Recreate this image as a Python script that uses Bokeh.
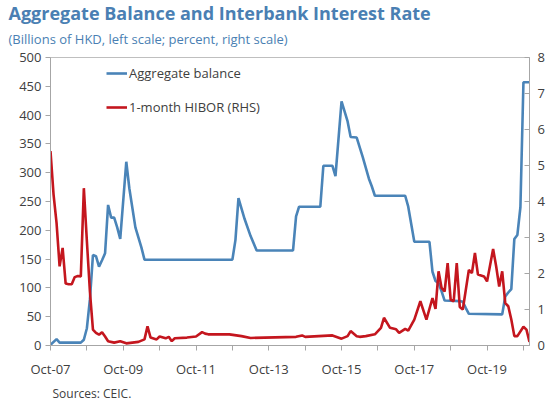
from bokeh.plotting import figure
from bokeh.models import (Range1d, LinearAxis, FixedTicker, Legend, LegendItem,
                          Title, ColumnDataSource)
from bokeh.embed import file_html
from bokeh.resources import INLINE

# ---- data ----
balance_dates = ["2007-10", "2007-12", "2008-01", "2008-08", "2008-09", "2008-10", "2008-11",
                 "2008-12", "2009-01", "2009-02", "2009-03", "2009-04", "2009-05", "2009-06",
                 "2009-07", "2009-08", "2009-09", "2009-11", "2009-12", "2010-02", "2010-04",
                 "2010-05",
                 "2012-10", "2012-11", "2012-12", "2013-02", "2013-04", "2013-06", "2014-06",
                 "2014-07", "2014-08", "2015-03", "2015-04", "2015-07", "2015-08", "2015-10",
                 "2015-12", "2016-01", "2016-03", "2016-05", "2016-07", "2016-08", "2016-09",
                 "2017-07", "2017-08", "2017-10", "2018-03", "2018-04", "2018-05", "2018-06",
                 "2018-07", "2018-08", "2019-01", "2019-02", "2019-03", "2019-04", "2020-03",
                 "2020-04", "2020-05", "2020-06", "2020-07", "2020-08", "2020-09", "2020-10",
                 "2020-12"]
balance_values = [1, 11, 5, 5, 10, 30, 80,
                  157, 155, 137, 148, 160, 244, 222,
                  222, 205, 185, 319, 273, 205, 170,
                  149,
                  149, 183, 256, 220, 190, 165, 165,
                  224, 241, 241, 312, 312, 294, 424,
                  389, 362, 361, 327, 290, 276, 260,
                  260, 241, 180, 180, 128, 112, 108,
                  94, 78, 77, 76, 65, 55, 54,
                  85, 92, 98, 185, 192, 240, 457,
                  457]

hibor_dates = ["2007-10", "2007-11", "2007-12", "2008-01", "2008-02", "2008-03", "2008-04",
               "2008-05", "2008-06", "2008-07", "2008-08", "2008-09", "2008-10", "2008-11",
               "2008-12", "2009-01", "2009-02", "2009-03", "2009-04", "2009-05", "2009-07",
               "2009-09", "2009-11", "2010-01", "2010-03", "2010-05", "2010-06", "2010-07",
               "2010-09", "2010-10", "2010-12", "2011-01", "2011-02", "2011-03", "2011-07",
               "2011-10", "2011-12", "2012-01", "2012-02", "2012-09", "2013-01", "2013-04",
               "2014-07", "2014-09", "2014-10", "2015-07", "2015-10", "2015-12", "2016-01",
               "2016-03", "2016-04", "2016-06", "2016-09", "2016-11", "2016-12", "2017-02",
               "2017-04", "2017-05", "2017-07", "2017-08", "2017-10", "2017-12", "2018-02",
               "2018-04", "2018-05", "2018-06", "2018-07", "2018-08", "2018-09", "2018-10",
               "2018-11", "2018-12", "2019-01", "2019-02", "2019-04", "2019-05", "2019-06",
               "2019-07", "2019-09", "2019-10", "2019-12", "2020-01", "2020-02", "2020-03",
               "2020-04", "2020-05", "2020-06", "2020-07", "2020-08", "2020-10", "2020-11",
               "2020-12"]
hibor_values = [5.4, 4.2, 3.4, 2.2, 2.71, 1.72, 1.70,
                1.70, 1.90, 1.93, 1.92, 4.37, 2.9, 1.5,
                0.44, 0.35, 0.30, 0.37, 0.25, 0.12, 0.08,
                0.12, 0.06, 0.08, 0.10, 0.17, 0.53, 0.22,
                0.17, 0.25, 0.20, 0.24, 0.12, 0.20, 0.22,
                0.25, 0.37, 0.33, 0.31, 0.31, 0.26, 0.21,
                0.24, 0.28, 0.24, 0.28, 0.19, 0.26, 0.40,
                0.26, 0.24, 0.26, 0.31, 0.49, 0.77, 0.49,
                0.45, 0.35, 0.46, 0.41, 0.72, 1.23, 0.72,
                1.32, 1.02, 2.06, 1.60, 1.50, 2.29, 1.27,
                1.23, 2.29, 1.07, 1.00, 2.10, 2.01, 2.57,
                1.97, 1.92, 1.78, 2.68, 2.20, 1.64, 2.06,
                1.18, 1.09, 0.72, 0.26, 0.26, 0.52, 0.44,
                0.10]

x_tick_dates = ["2007-10", "2009-10", "2011-10", "2013-10", "2015-10", "2017-10", "2019-10"]
x_tick_labels = ["Oct-07", "Oct-09", "Oct-11", "Oct-13", "Oct-15", "Oct-17", "Oct-19"]
x_minor_dates = ["2008-10", "2010-10", "2012-10", "2014-10", "2016-10", "2018-10", "2020-10"]
left_ticks = [0, 50, 100, 150, 200, 250, 300, 350, 400, 450, 500]
right_ticks = [0, 1, 2, 3, 4, 5, 6, 7, 8]

title_text = "Aggregate Balance and Interbank Interest Rate"
subtitle_text = "(Billions of HKD, left scale; percent, right scale)"
source_text = "Sources: CEIC."
series_names = ["Aggregate balance", "1-month HIBOR (RHS)"]


def month_index(s):
    y, m = map(int, s.split("-"))
    return (y - 2007) * 12 + (m - 10)


BLUE = "#4a84b8"
RED = "#c4161e"
TITLE_BLUE = "#4a7fb3"
AXIS_GRAY = "#a6a6a6"
TEXT = "#404040"
FONT = "Open Sans"

bal_src = ColumnDataSource(dict(x=[month_index(d) for d in balance_dates], y=balance_values))
hib_src = ColumnDataSource(dict(x=[month_index(d) for d in hibor_dates], y=hibor_values))

p = figure(width=548, height=403, output_backend="svg", toolbar_location=None,
           x_range=Range1d(0, 158), y_range=Range1d(0, 500),
           min_border_left=50, min_border_right=19, min_border_top=57, min_border_bottom=57)
p.extra_y_ranges = {"rhs": Range1d(0, 8)}

p.xgrid.visible = False
p.ygrid.visible = False
p.outline_line_color = "#bfbfbf"
p.background_fill_color = "white"
p.border_fill_color = "white"

r1 = p.line("x", "y", source=bal_src, line_color=BLUE, line_width=2.6)
r2 = p.line("x", "y", source=hib_src, line_color=RED, line_width=2.6, y_range_name="rhs")

# x axis
xa = p.xaxis[0]
xa.ticker = FixedTicker(ticks=[month_index(d) for d in x_tick_dates],
                        minor_ticks=[month_index(d) for d in x_minor_dates])
xa.major_label_overrides = {month_index(d): lab for d, lab in zip(x_tick_dates, x_tick_labels)}
xa.axis_line_color = AXIS_GRAY
xa.major_tick_line_color = AXIS_GRAY
xa.minor_tick_line_color = AXIS_GRAY
xa.major_tick_in = 0
xa.major_tick_out = 5
xa.minor_tick_in = 0
xa.minor_tick_out = 5
xa.major_label_text_font = FONT
xa.major_label_text_font_size = "13px"
xa.major_label_text_color = TEXT
xa.major_label_standoff = 9

# left axis
ya = p.yaxis[0]
ya.ticker = FixedTicker(ticks=left_ticks)
ya.axis_line_color = AXIS_GRAY
ya.major_tick_line_color = AXIS_GRAY
ya.minor_tick_line_color = None
ya.major_tick_in = 0
ya.major_tick_out = 5
ya.major_label_text_font = FONT
ya.major_label_text_font_size = "13px"
ya.major_label_text_color = TEXT
ya.major_label_standoff = 4

# right axis
ra = LinearAxis(y_range_name="rhs", ticker=FixedTicker(ticks=right_ticks))
ra.axis_line_color = AXIS_GRAY
ra.major_tick_line_color = AXIS_GRAY
ra.minor_tick_line_color = None
ra.major_tick_in = 5
ra.major_tick_out = 0
ra.major_label_text_font = FONT
ra.major_label_text_font_size = "13px"
ra.major_label_text_color = TEXT
ra.major_label_standoff = 8
p.add_layout(ra, "right")

# legend
legend = Legend(items=[LegendItem(label=series_names[0], renderers=[r1]),
                       LegendItem(label=series_names[1], renderers=[r2])],
                location=(56, 228), orientation="vertical",
                background_fill_alpha=0, border_line_color=None,
                padding=0, margin=0, spacing=14,
                glyph_width=21, glyph_height=20, label_height=20, label_standoff=2,
                label_text_font=FONT, label_text_font_size="13px", label_text_color=TEXT)
p.add_layout(legend, "center")

# titles
sub = Title(text=subtitle_text, text_font=FONT, text_font_size="13px",
            text_font_style="normal", text_color=TITLE_BLUE, align="left", offset=-42,
            standoff=19)
p.add_layout(sub, "above")
ttl = Title(text=title_text, text_font=FONT, text_font_size="18px",
            text_font_style="bold", text_color=TITLE_BLUE, align="left", offset=-42,
            standoff=-13)
p.add_layout(ttl, "above")

src = Title(text=source_text, text_font=FONT, text_font_size="12px",
            text_font_style="normal", text_color=TEXT, align="left", offset=2,
            standoff=4)
p.add_layout(src, "below")

open("out.html", "w").write(file_html(p, INLINE))
